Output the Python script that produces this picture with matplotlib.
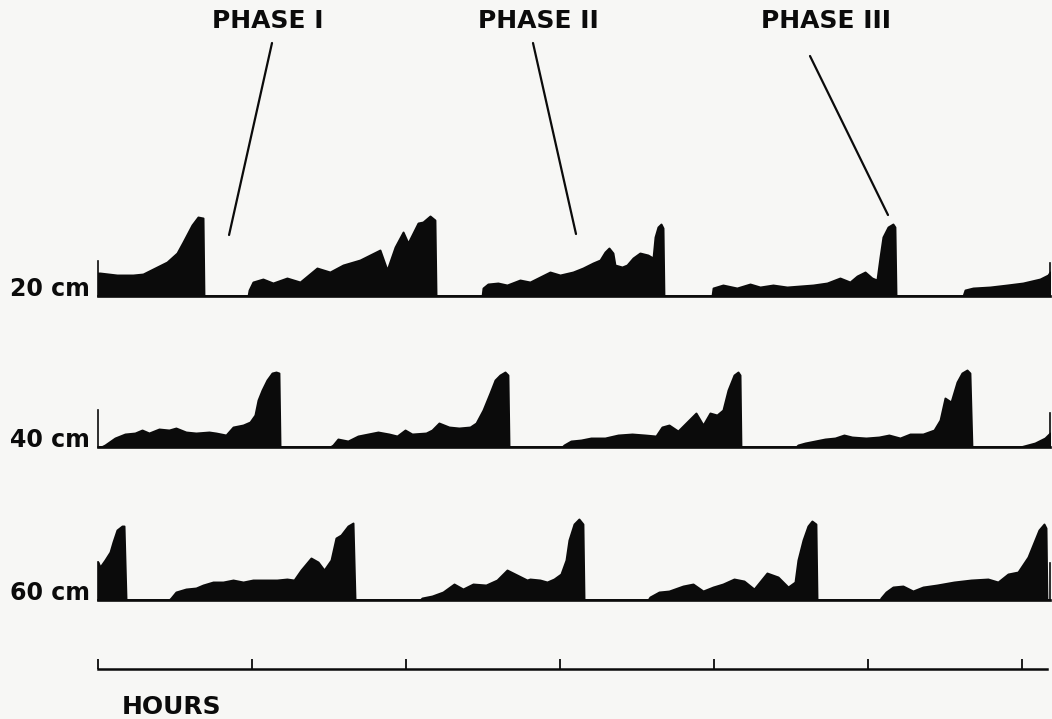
import matplotlib
matplotlib.use("Agg")
import matplotlib.pyplot as plt

# Recording time (hours) and contractile amplitude (arbitrary units) for each site
time_20 = [0.000, 0.013, 0.123, 0.227, 0.292, 0.383, 0.448, 0.513, 0.552, 0.610, 0.649, 0.682, 0.688,
           0.974, 0.981, 1.006, 1.071, 1.136, 1.227, 1.312, 1.422, 1.506, 1.591, 1.701, 1.766, 1.831,
           1.877, 1.929, 1.981, 2.013, 2.078, 2.110, 2.156, 2.188, 2.195,
           2.494, 2.500, 2.532, 2.597, 2.656, 2.740, 2.805, 2.870, 2.935, 3.000, 3.084, 3.149, 3.214,
           3.260, 3.292, 3.318, 3.344, 3.357, 3.403, 3.435, 3.474, 3.519, 3.571, 3.604, 3.617, 3.636,
           3.656, 3.669, 3.675,
           3.987, 3.994, 4.058, 4.149, 4.234, 4.299, 4.383, 4.474, 4.558, 4.643, 4.734, 4.818, 4.883,
           4.929, 4.981, 5.026, 5.058, 5.078, 5.097, 5.130, 5.162, 5.175, 5.182,
           5.617, 5.630, 5.682, 5.792, 5.903, 6.006, 6.117, 6.169, 6.182]
amp_20 = [23, 23, 21, 21, 22, 29, 34, 43, 54, 71, 79, 78, 0,
          0, 6, 14, 17, 13, 18, 14, 28, 24, 31, 36, 41, 46,
          26, 49, 64, 53, 73, 74, 80, 76, 0,
          0, 8, 12, 13, 11, 16, 14, 19, 24, 21, 24, 28, 33,
          36, 44, 48, 43, 31, 29, 31, 38, 43, 41, 38, 59, 69,
          72, 68, 0,
          0, 8, 11, 8, 12, 9, 11, 9, 10, 11, 13, 18, 14,
          20, 24, 18, 16, 39, 59, 69, 72, 69, 0,
          0, 6, 8, 9, 11, 13, 17, 21, 24]

time_40 = [0.000, 0.019, 0.045, 0.110, 0.175, 0.240, 0.286, 0.331, 0.396, 0.461, 0.506, 0.571, 0.636,
           0.721, 0.766, 0.831, 0.877, 0.942, 0.987, 1.019, 1.039, 1.065, 1.097, 1.130, 1.156, 1.175,
           1.182,
           1.506, 1.526, 1.558, 1.623, 1.688, 1.753, 1.818, 1.890, 1.942, 1.994, 2.039, 2.130, 2.169,
           2.214, 2.279, 2.344, 2.416, 2.455, 2.500, 2.545, 2.578, 2.610, 2.643, 2.662, 2.669,
           3.013, 3.026, 3.071, 3.136, 3.201, 3.292, 3.377, 3.468, 3.552, 3.623, 3.662, 3.708, 3.766,
           3.818, 3.883, 3.929, 3.974, 4.019, 4.058, 4.091, 4.130, 4.156, 4.169, 4.175,
           4.532, 4.545, 4.591, 4.656, 4.721, 4.786, 4.844, 4.896, 4.987, 5.071, 5.136, 5.208, 5.273,
           5.357, 5.429, 5.468, 5.500, 5.539, 5.578, 5.610, 5.643, 5.662, 5.675,
           5.987, 6.084, 6.149, 6.182]
amp_40 = [0, 0, 2, 9, 13, 14, 17, 14, 18, 17, 19, 15, 14,
          15, 14, 12, 20, 22, 25, 32, 47, 57, 67, 74, 75, 74,
          0,
          0, 2, 8, 6, 11, 13, 15, 13, 11, 17, 13, 14, 17,
          24, 20, 19, 20, 24, 37, 54, 67, 72, 75, 72, 0,
          0, 2, 6, 7, 9, 9, 12, 13, 12, 11, 20, 22, 16,
          24, 34, 22, 34, 32, 37, 57, 72, 75, 72, 0,
          0, 2, 4, 6, 8, 9, 12, 10, 9, 10, 12, 9, 13,
          13, 17, 27, 49, 45, 65, 74, 77, 74, 0,
          0, 4, 9, 14]

time_60 = [0.000, 0.013, 0.045, 0.078, 0.097, 0.123, 0.156, 0.169, 0.182,
           0.461, 0.474, 0.506, 0.571, 0.636, 0.682, 0.747, 0.812, 0.877, 0.942, 1.006, 1.078, 1.162,
           1.227, 1.273, 1.318, 1.383, 1.429, 1.468, 1.513, 1.545, 1.578, 1.623, 1.656, 1.669,
           2.091, 2.104, 2.169, 2.240, 2.312, 2.370, 2.435, 2.519, 2.591, 2.656, 2.721, 2.786, 2.805,
           2.870, 2.916, 2.961, 3.006, 3.039, 3.058, 3.091, 3.123, 3.149, 3.156,
           3.571, 3.584, 3.643, 3.708, 3.799, 3.864, 3.929, 3.994, 4.058, 4.130, 4.195, 4.260, 4.344,
           4.416, 4.481, 4.526, 4.545, 4.578, 4.610, 4.636, 4.662, 4.669,
           5.078, 5.084, 5.117, 5.162, 5.227, 5.292, 5.357, 5.448, 5.558, 5.669, 5.779, 5.844, 5.909,
           5.974, 6.039, 6.110, 6.143, 6.156, 6.162, 6.182]
amp_60 = [38, 33, 40, 48, 58, 70, 74, 74, 0,
          0, 2, 8, 11, 12, 15, 18, 18, 20, 18, 20, 20, 20,
          21, 20, 30, 42, 38, 30, 40, 62, 65, 74, 77, 0,
          0, 2, 4, 8, 16, 11, 16, 15, 20, 30, 25, 20, 21,
          20, 18, 21, 26, 40, 60, 76, 81, 76, 0,
          0, 3, 8, 9, 14, 16, 9, 13, 16, 21, 19, 11, 27,
          23, 13, 18, 40, 60, 74, 79, 76, 0,
          0, 2, 8, 13, 14, 9, 13, 15, 18, 20, 21, 18, 26,
          28, 43, 70, 76, 72, 0, 0]

site_labels = ["20 cm", "40 cm", "60 cm"]
# height of the pen calibration stroke at the left / right edge of each trace
edge_left = [35, 37, 38]
edge_right = [33, 34, 37]

hour_ticks = [0, 1, 2, 3, 4, 5, 6]
phase_labels = ["PHASE I", "PHASE II", "PHASE III"]
# where each phase pointer touches the 20 cm trace (hours, amplitude)
phase_time = [0.851, 3.104, 5.130]
phase_amp = [61, 62, 81]

W, H = 1052, 719
fig = plt.figure(figsize=(W / 100, H / 100), dpi=100)
paper = "#f7f7f5"
ink = "#0b0b0b"
fig.patch.set_facecolor(paper)

t_max = 6.182
left, right = 98 / W, 1050 / W
strip_h = 100 / H
strip_bottoms = [(H - 296) / H, (H - 447) / H, (H - 600) / H]
font = dict(family="DejaVu Sans", fontweight="bold", color=ink)

series = [(time_20, amp_20), (time_40, amp_40), (time_60, amp_60)]
axes = []
for i, (t, a) in enumerate(series):
    ax = fig.add_axes([left, strip_bottoms[i], right - left, strip_h])
    ax.set_facecolor("none")
    ax.fill_between(t, 0, a, color=ink, lw=1.4, edgecolor=ink, joinstyle="round")
    ax.set_xlim(0, t_max)
    ax.set_ylim(0, 100)
    ax.set_xticks([])
    ax.set_yticks([])
    ax.spines["top"].set_visible(False)
    ax.spines["bottom"].set_linewidth(1.9)
    ax.spines["bottom"].set_color(ink)
    for side, top in (("left", edge_left[i]), ("right", edge_right[i])):
        ax.spines[side].set_bounds(0, top)
        ax.spines[side].set_linewidth(1.2)
        ax.spines[side].set_color(ink)
    ax.text(-0.05, 0, site_labels[i], ha="right", va="baseline", fontsize=17, **font)
    axes.append(ax)

# phase annotations pointing onto the 20 cm trace (pointer tops in figure pixels)
label_x = [268, 538, 826]
line_top = [(272, H - 43), (533, H - 43), (810, H - 56)]
for k, lab in enumerate(phase_labels):
    fig.text(label_x[k] / W, (H - 21) / H, lab, ha="center", va="center", fontsize=18, **font)
    axes[0].annotate("", xy=(phase_time[k], phase_amp[k]), xycoords="data",
                     xytext=line_top[k], textcoords="figure pixels",
                     arrowprops=dict(arrowstyle="-", lw=1.6, color=ink,
                                     shrinkA=0, shrinkB=0))

# time scale
axh = fig.add_axes([left, (H - 669) / H, right - left, 20 / H])
axh.set_facecolor("none")
axh.set_xlim(0, t_max)
axh.set_ylim(0, 1)
for side in ("top", "left", "right"):
    axh.spines[side].set_visible(False)
axh.spines["bottom"].set_bounds(0, 6.162)
axh.spines["bottom"].set_linewidth(1.8)
axh.spines["bottom"].set_color(ink)
axh.set_xticks(hour_ticks)
axh.set_xticklabels([])
axh.set_yticks([])
axh.tick_params(axis="x", direction="in", length=7, width=1.3, color=ink)
fig.text(122 / W, (H - 707) / H, "HOURS", ha="left", va="center", fontsize=18, **font)

fig.savefig("out.png", dpi=100, facecolor=paper)
